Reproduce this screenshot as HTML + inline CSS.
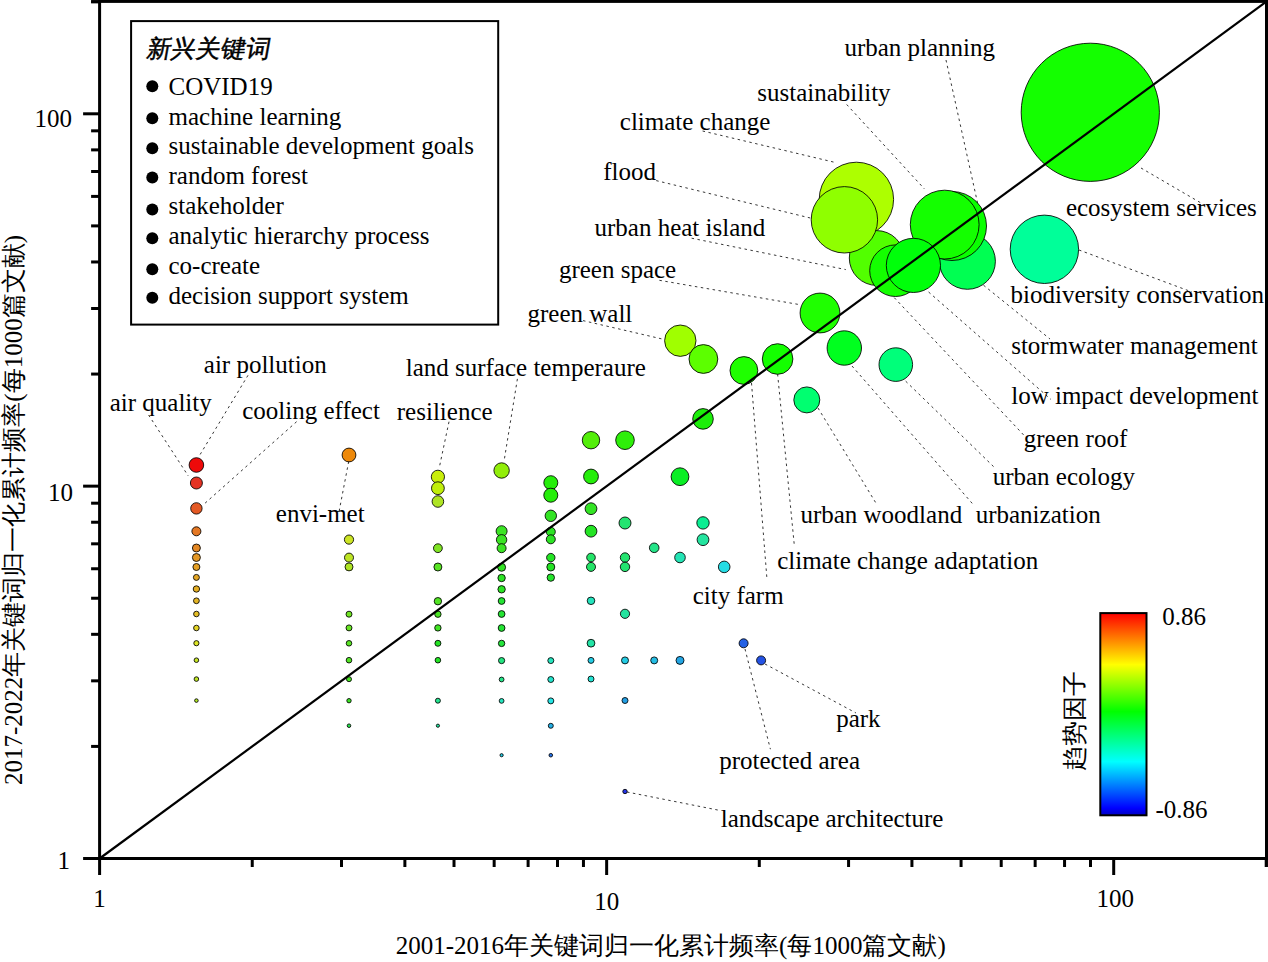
<!DOCTYPE html><html><head><meta charset="utf-8"><style>html,body{margin:0;padding:0;background:#fff;width:1268px;height:962px;overflow:hidden}svg{display:block}text{font-family:"Liberation Serif",serif;font-size:25px;fill:#000}</style></head><body>
<svg width="1268" height="962" viewBox="0 0 1268 962">
<defs><linearGradient id="cb" x1="0" y1="0" x2="0" y2="1"><stop offset="0" stop-color="#ff0000"/><stop offset="0.255" stop-color="#ffff00"/><stop offset="0.487" stop-color="#00ff00"/><stop offset="0.735" stop-color="#00ffff"/><stop offset="0.965" stop-color="#0000ff"/><stop offset="1" stop-color="#0000c0"/></linearGradient></defs>
<g stroke="#000" stroke-width="1" stroke-opacity="0.85">
<circle cx="196.4" cy="465" r="7.3" fill="#ee0a0a"/>
<circle cx="196.4" cy="483" r="6.0" fill="#e43324"/>
<circle cx="196.4" cy="508.4" r="5.7" fill="#e45924"/>
<circle cx="196.4" cy="531.3" r="4.5" fill="#e47824"/>
<circle cx="196.4" cy="548" r="4.0" fill="#e48824"/>
<circle cx="196.4" cy="557.5" r="4.0" fill="#e49724"/>
<circle cx="196.4" cy="567" r="3.5" fill="#e49f24"/>
<circle cx="196.4" cy="577.4" r="3.0" fill="#e4a624"/>
<circle cx="196.4" cy="589" r="3.2" fill="#e4ae24"/>
<circle cx="196.4" cy="600.8" r="2.9" fill="#e4b524"/>
<circle cx="196.4" cy="614" r="2.8" fill="#e4bd24"/>
<circle cx="196.4" cy="628" r="2.8" fill="#e4d424"/>
<circle cx="196.4" cy="643.2" r="2.6" fill="#dce424"/>
<circle cx="196.4" cy="660.2" r="2.3" fill="#c5e424"/>
<circle cx="196.4" cy="679.1" r="2.3" fill="#bde424"/>
<circle cx="196.4" cy="700.6" r="1.8" fill="#aee424"/>
<circle cx="349" cy="455" r="6.9" fill="#ee890a"/>
<circle cx="349" cy="539.6" r="4.6" fill="#cce424"/>
<circle cx="349" cy="557.6" r="4.5" fill="#bde424"/>
<circle cx="349" cy="566.9" r="4.0" fill="#aee424"/>
<circle cx="349" cy="614.2" r="3.0" fill="#70e424"/>
<circle cx="349" cy="627.9" r="3.0" fill="#68e424"/>
<circle cx="349" cy="643.3" r="2.8" fill="#59e424"/>
<circle cx="349" cy="660.2" r="2.8" fill="#52e424"/>
<circle cx="349" cy="679.2" r="2.5" fill="#4ae424"/>
<circle cx="349" cy="700.7" r="2.2" fill="#3be424"/>
<circle cx="349" cy="725.7" r="1.8" fill="#24e44a"/>
<circle cx="437.9" cy="476.8" r="6.6" fill="#c9ee0a"/>
<circle cx="437.9" cy="488.2" r="6.4" fill="#c0ee0a"/>
<circle cx="437.9" cy="501.5" r="5.8" fill="#aee424"/>
<circle cx="437.9" cy="548.2" r="4.4" fill="#80e424"/>
<circle cx="437.9" cy="567" r="4.0" fill="#59e424"/>
<circle cx="437.9" cy="601.2" r="3.7" fill="#52e424"/>
<circle cx="437.9" cy="614.2" r="3.2" fill="#4ae424"/>
<circle cx="437.9" cy="627.9" r="3.2" fill="#42e424"/>
<circle cx="437.9" cy="643.3" r="3.0" fill="#24e424"/>
<circle cx="437.9" cy="660.2" r="2.8" fill="#24e424"/>
<circle cx="437.9" cy="700.7" r="2.5" fill="#24e48f"/>
<circle cx="437.9" cy="725.7" r="1.6" fill="#24e49f"/>
<circle cx="501.6" cy="470.5" r="7.7" fill="#92ee0a"/>
<circle cx="501.6" cy="531.2" r="5.5" fill="#3be424"/>
<circle cx="501.6" cy="539.8" r="5.2" fill="#3be424"/>
<circle cx="501.6" cy="548.2" r="4.5" fill="#3be424"/>
<circle cx="501.6" cy="567.3" r="4.0" fill="#33e424"/>
<circle cx="501.6" cy="578" r="3.7" fill="#2ce424"/>
<circle cx="501.6" cy="589.3" r="3.7" fill="#2ce424"/>
<circle cx="501.6" cy="601" r="3.4" fill="#24e433"/>
<circle cx="501.6" cy="614" r="3.4" fill="#24e433"/>
<circle cx="501.6" cy="628" r="3.4" fill="#24e433"/>
<circle cx="501.6" cy="643.4" r="3.2" fill="#24e43b"/>
<circle cx="501.6" cy="660.6" r="3.1" fill="#24e480"/>
<circle cx="501.6" cy="679.5" r="2.4" fill="#24e488"/>
<circle cx="501.6" cy="700.9" r="2.4" fill="#24e4bd"/>
<circle cx="501.6" cy="755.2" r="1.6" fill="#24cce4"/>
<circle cx="550.8" cy="482.7" r="7.0" fill="#25ee0a"/>
<circle cx="550.8" cy="495.2" r="7.0" fill="#25ee0a"/>
<circle cx="550.8" cy="515.8" r="5.7" fill="#33e424"/>
<circle cx="550.8" cy="531.8" r="4.5" fill="#2ce424"/>
<circle cx="550.8" cy="539.3" r="4.5" fill="#2ce424"/>
<circle cx="550.8" cy="557.6" r="4.2" fill="#24e424"/>
<circle cx="550.8" cy="567" r="4.0" fill="#24e424"/>
<circle cx="550.8" cy="577.6" r="3.7" fill="#24e42c"/>
<circle cx="550.8" cy="660.6" r="3.0" fill="#24e4bd"/>
<circle cx="550.8" cy="679.5" r="3.0" fill="#24e4cc"/>
<circle cx="550.8" cy="700.9" r="3.0" fill="#24e4e4"/>
<circle cx="550.8" cy="725.8" r="2.5" fill="#24aee4"/>
<circle cx="550.8" cy="755.2" r="1.8" fill="#2470e4"/>
<circle cx="591" cy="440.2" r="8.7" fill="#53ee0a"/>
<circle cx="591" cy="476.5" r="7.4" fill="#25ee0a"/>
<circle cx="591" cy="508.7" r="5.9" fill="#33e424"/>
<circle cx="591" cy="531.2" r="5.9" fill="#24e424"/>
<circle cx="591" cy="557.5" r="4.3" fill="#24e468"/>
<circle cx="591" cy="566.9" r="4.5" fill="#24e468"/>
<circle cx="591" cy="600.8" r="3.8" fill="#24e4bd"/>
<circle cx="591" cy="643.2" r="3.9" fill="#24e4a6"/>
<circle cx="591" cy="660.4" r="3.0" fill="#24cce4"/>
<circle cx="591" cy="679" r="3.0" fill="#24e4d4"/>
<circle cx="625" cy="440.2" r="9.3" fill="#2eee0a"/>
<circle cx="625" cy="523" r="6.0" fill="#24e470"/>
<circle cx="625" cy="557.5" r="4.7" fill="#24e470"/>
<circle cx="625" cy="566.9" r="4.7" fill="#24e470"/>
<circle cx="625" cy="613.8" r="4.6" fill="#24e49f"/>
<circle cx="625" cy="660.4" r="3.5" fill="#24cce4"/>
<circle cx="625" cy="700.5" r="3.0" fill="#249fe4"/>
<circle cx="625" cy="791.5" r="2.2" fill="#2433e4"/>
<circle cx="654.2" cy="547.8" r="4.8" fill="#24e488"/>
<circle cx="654.2" cy="660.4" r="3.5" fill="#24bde4"/>
<circle cx="680" cy="476.7" r="8.9" fill="#0aee25"/>
<circle cx="680" cy="557.5" r="5.3" fill="#24e4b5"/>
<circle cx="680" cy="660.4" r="4.0" fill="#24a6e4"/>
<circle cx="703" cy="418.9" r="10.3" fill="#1cee0a"/>
<circle cx="703" cy="522.9" r="6.2" fill="#0aee92"/>
<circle cx="703" cy="539.7" r="5.9" fill="#24e49f"/>
<circle cx="724.2" cy="566.9" r="5.8" fill="#24dce4"/>
<circle cx="743.6" cy="643.3" r="4.5" fill="#2461e4"/>
<circle cx="761.1" cy="660.4" r="4.5" fill="#2452e4"/>
<circle cx="806.8" cy="399.9" r="13" fill="#00ff70"/>
<circle cx="895.8" cy="364.6" r="16.8" fill="#00ff7a"/>
<circle cx="844.3" cy="348" r="17.2" fill="#00ff1f"/>
<circle cx="820" cy="313" r="19.9" fill="#1fff00"/>
<circle cx="680.3" cy="340.7" r="15.7" fill="#a0ff00"/>
<circle cx="703.4" cy="359" r="14.4" fill="#5cff00"/>
<circle cx="743.9" cy="370.5" r="13.9" fill="#1fff00"/>
<circle cx="777.6" cy="359" r="15.3" fill="#14ff00"/>
<circle cx="1090.3" cy="112.3" r="69.1" fill="#14ff00"/>
<circle cx="1044.4" cy="249.3" r="34.2" fill="#00ff99"/>
<circle cx="856.4" cy="199.4" r="37.2" fill="#adff00"/>
<circle cx="876.7" cy="258" r="27.4" fill="#52ff00"/>
<circle cx="844.4" cy="219.8" r="33.2" fill="#8fff00"/>
<circle cx="895.5" cy="270.7" r="25.8" fill="#14ff00"/>
<circle cx="967.4" cy="261.3" r="28" fill="#00ff52"/>
<circle cx="952" cy="226" r="34.5" fill="#0aff00"/>
<circle cx="944.7" cy="224.6" r="34.4" fill="#14ff00"/>
<circle cx="913.4" cy="265.4" r="27.1" fill="#00ff0a"/>
</g>
<g stroke="#202020" stroke-width="0.9" stroke-dasharray="2.5 3.5" fill="none">
<line x1="946" y1="60" x2="978" y2="205"/>
<line x1="846.7" y1="104.5" x2="924.5" y2="189"/>
<line x1="702.6" y1="131" x2="835" y2="162.4"/>
<line x1="656.2" y1="180.6" x2="810.3" y2="218"/>
<line x1="691.6" y1="238.2" x2="845.8" y2="269.6"/>
<line x1="659.4" y1="280.3" x2="798.9" y2="304.5"/>
<line x1="583" y1="320.6" x2="663.5" y2="339.3"/>
<line x1="1141" y1="168" x2="1201" y2="203"/>
<line x1="1079" y1="250" x2="1192" y2="292"/>
<line x1="983.5" y1="285.2" x2="1050" y2="339"/>
<line x1="928.6" y1="292" x2="1051" y2="399.5"/>
<line x1="894.3" y1="297.7" x2="1024.7" y2="436.1"/>
<line x1="905.7" y1="381.2" x2="995" y2="468"/>
<line x1="852" y1="366" x2="973.9" y2="505.3"/>
<line x1="818" y1="408" x2="875.9" y2="503"/>
<line x1="777.6" y1="374" x2="794.3" y2="545.2"/>
<line x1="751.5" y1="383" x2="767" y2="579.6"/>
<line x1="765" y1="664" x2="856" y2="713"/>
<line x1="745" y1="649" x2="770.4" y2="749.2"/>
<line x1="627" y1="792" x2="719.2" y2="810.3"/>
<line x1="248" y1="375.3" x2="199.4" y2="455.7"/>
<line x1="148.6" y1="415" x2="188.3" y2="476"/>
<line x1="296.6" y1="421.7" x2="203.8" y2="504.3"/>
<line x1="449" y1="421.7" x2="439.2" y2="468"/>
<line x1="517.4" y1="378.9" x2="504" y2="461.5"/>
<line x1="348.7" y1="461.5" x2="338.5" y2="514.5"/>
</g>
<line x1="99.6" y1="858.5" x2="1266.3372593014217" y2="1.7114811145165731" stroke="#000" stroke-width="2.2"/>
<g stroke="#000" stroke-width="3" fill="none">
<rect x="99.6" y="1.4" width="1166.9" height="857.1"/>
<line x1="99.6" y1="858.5" x2="99.6" y2="875.0"/>
<line x1="99.6" y1="858.5" x2="83.1" y2="858.5"/>
<line x1="252.23725930142166" y1="858.5" x2="252.23725930142166" y2="867.0"/>
<line x1="99.6" y1="746.4114811145166" x2="91.1" y2="746.4114811145166"/>
<line x1="341.5243322056049" y1="858.5" x2="341.5243322056049" y2="867.0"/>
<line x1="99.6" y1="680.8439008051337" x2="91.1" y2="680.8439008051337"/>
<line x1="404.8745186028433" y1="858.5" x2="404.8745186028433" y2="867.0"/>
<line x1="99.6" y1="634.3229622290332" x2="91.1" y2="634.3229622290332"/>
<line x1="454.01274069857834" y1="858.5" x2="454.01274069857834" y2="867.0"/>
<line x1="99.6" y1="598.2385188854834" x2="91.1" y2="598.2385188854834"/>
<line x1="494.1615915070265" y1="858.5" x2="494.1615915070265" y2="867.0"/>
<line x1="99.6" y1="568.7553819196503" x2="91.1" y2="568.7553819196503"/>
<line x1="528.106961189229" y1="858.5" x2="528.106961189229" y2="867.0"/>
<line x1="99.6" y1="543.8277448006914" x2="91.1" y2="543.8277448006914"/>
<line x1="557.5117779042649" y1="858.5" x2="557.5117779042649" y2="867.0"/>
<line x1="99.6" y1="522.2344433435499" x2="91.1" y2="522.2344433435499"/>
<line x1="583.4486644112097" y1="858.5" x2="583.4486644112097" y2="867.0"/>
<line x1="99.6" y1="503.18780161026734" x2="91.1" y2="503.18780161026734"/>
<line x1="606.65" y1="858.5" x2="606.65" y2="875.0"/>
<line x1="99.6" y1="486.15" x2="83.1" y2="486.15"/>
<line x1="759.2872593014217" y1="858.5" x2="759.2872593014217" y2="867.0"/>
<line x1="99.6" y1="374.06148111451654" x2="91.1" y2="374.06148111451654"/>
<line x1="848.5743322056048" y1="858.5" x2="848.5743322056048" y2="867.0"/>
<line x1="99.6" y1="308.49390080513365" x2="91.1" y2="308.49390080513365"/>
<line x1="911.9245186028435" y1="858.5" x2="911.9245186028435" y2="867.0"/>
<line x1="99.6" y1="261.9729622290331" x2="91.1" y2="261.9729622290331"/>
<line x1="961.0627406985783" y1="858.5" x2="961.0627406985783" y2="867.0"/>
<line x1="99.6" y1="225.88851888548334" x2="91.1" y2="225.88851888548334"/>
<line x1="1001.2115915070266" y1="858.5" x2="1001.2115915070266" y2="867.0"/>
<line x1="99.6" y1="196.40538191965027" x2="91.1" y2="196.40538191965027"/>
<line x1="1035.156961189229" y1="858.5" x2="1035.156961189229" y2="867.0"/>
<line x1="99.6" y1="171.47774480069143" x2="91.1" y2="171.47774480069143"/>
<line x1="1064.561777904265" y1="858.5" x2="1064.561777904265" y2="867.0"/>
<line x1="99.6" y1="149.88444334354983" x2="91.1" y2="149.88444334354983"/>
<line x1="1090.4986644112096" y1="858.5" x2="1090.4986644112096" y2="867.0"/>
<line x1="99.6" y1="130.83780161026743" x2="91.1" y2="130.83780161026743"/>
<line x1="1113.7" y1="858.5" x2="1113.7" y2="875.0"/>
<line x1="99.6" y1="113.79999999999995" x2="83.1" y2="113.79999999999995"/>
<line x1="1266.3372593014217" y1="858.5" x2="1266.3372593014217" y2="867.0"/>
<line x1="99.6" y1="1.7114811145165731" x2="91.1" y2="1.7114811145165731"/>
<line x1="1266.3372593014217" y1="858.5" x2="1266.3372593014217" y2="867.0"/>
<line x1="99.6" y1="1.7114811145165731" x2="91.1" y2="1.7114811145165731"/>
</g>
<text x="72" y="127" text-anchor="end">100</text>
<text x="73" y="501" text-anchor="end">10</text>
<text x="70" y="868.5" text-anchor="end">1</text>
<text x="99.6" y="907" text-anchor="middle">1</text>
<text x="606.65" y="910" text-anchor="middle">10</text>
<text x="1115.2" y="907" text-anchor="middle">100</text>
<text x="670.8" y="954" text-anchor="middle">2001-2016年关键词归一化累计频率(每1000篇文献)</text>
<text transform="translate(22,510) rotate(-90)" text-anchor="middle">2017-2022年关键词归一化累计频率(每1000篇文献)</text>
<text x="844.4" y="55.8">urban planning</text>
<text x="757.3" y="101.2">sustainability</text>
<text x="619.8" y="130.3">climate change</text>
<text x="603.2" y="180">flood</text>
<text x="594.5" y="236">urban heat island</text>
<text x="558.9" y="278.2">green space</text>
<text x="527.5" y="321.9">green wall</text>
<text x="1065.9" y="215.5">ecosystem services</text>
<text x="1010.6" y="302.9">biodiversity conservation</text>
<text x="1011.2" y="353.8">stormwater management</text>
<text x="1011.2" y="404.2">low impact development</text>
<text x="1023.8" y="446.8">green roof</text>
<text x="992.7" y="485.3">urban ecology</text>
<text x="800.4" y="522.5">urban woodland</text>
<text x="975.7" y="522.5">urbanization</text>
<text x="777.2" y="569">climate change adaptation</text>
<text x="692.7" y="603.5">city farm</text>
<text x="836.2" y="726.5">park</text>
<text x="719.2" y="769.1">protected area</text>
<text x="720.7" y="826.5">landscape architecture</text>
<text x="203.8" y="373.1">air pollution</text>
<text x="109.7" y="410.7">air quality</text>
<text x="242.2" y="418.6">cooling effect</text>
<text x="396.8" y="419.5">resilience</text>
<text x="405.7" y="376.2">land surface temperaure</text>
<text x="275.8" y="522">envi-met</text>
<rect x="131.1" y="21.1" width="367.1" height="303.5" fill="none" stroke="#000" stroke-width="2"/>
<text transform="translate(145.5,56.5) skewX(-10)" style="font-size:24.5px;stroke:#000;stroke-width:0.5">新兴关键词</text>
<circle cx="152.3" cy="86.3" r="6" fill="#000"/>
<text x="168.5" y="94.7">COVID19</text>
<circle cx="152.3" cy="118.3" r="6" fill="#000"/>
<text x="168.5" y="124.55000000000001">machine learning</text>
<circle cx="152.3" cy="148.3" r="6" fill="#000"/>
<text x="168.5" y="154.4">sustainable development goals</text>
<circle cx="152.3" cy="177.5" r="6" fill="#000"/>
<text x="168.5" y="184.25">random forest</text>
<circle cx="152.3" cy="209.4" r="6" fill="#000"/>
<text x="168.5" y="214.10000000000002">stakeholder</text>
<circle cx="152.3" cy="238.2" r="6" fill="#000"/>
<text x="168.5" y="243.95">analytic hierarchy process</text>
<circle cx="152.3" cy="269.3" r="6" fill="#000"/>
<text x="168.5" y="273.8">co-create</text>
<circle cx="152.3" cy="297.8" r="6" fill="#000"/>
<text x="168.5" y="303.65000000000003">decision support system</text>
<rect x="1100.3" y="613.1" width="46.2" height="202.2" fill="url(#cb)" stroke="#000" stroke-width="2"/>
<text x="1162.2" y="624.5">0.86</text>
<text x="1155.5" y="817.5">-0.86</text>
<text transform="translate(1083,721) rotate(-90)" text-anchor="middle">趋势因子</text>
</svg></body></html>
